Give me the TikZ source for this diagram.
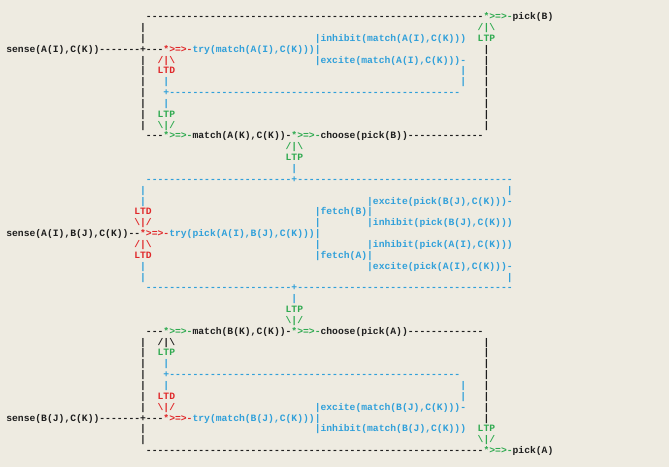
\documentclass[tikz,border=0pt]{standalone}
\usepackage{fontspec}
\setmonofont{Liberation Mono}
\definecolor{bgc}{HTML}{EEEBE1}
\definecolor{blk}{HTML}{1E1E1E}
\definecolor{redc}{HTML}{E0282A}
\definecolor{grnc}{HTML}{2FAA50}
\definecolor{cync}{HTML}{30A0DA}
\ExplSyntaxOn
\cs_new:Npn \myDashes #1 {\prg_replicate:nn{#1}{-}}
\ExplSyntaxOff
\newcommand\bs{\textbackslash}
\tikzset{txt/.style={anchor=base west, inner sep=0pt, outer sep=0pt,
  font=\ttfamily\bfseries\fontsize{9.7}{10}\selectfont}}
% \seg{col}{row}{colour}{text}
\newcommand\seg[4]{\node[txt,text=#3] (c#1r#2) at ({6.3+#1*5.82},{-(19.6+#2*10.85)}) {#4};}
\begin{document}
\begin{tikzpicture}[x=1pt,y=1pt]
\fill[bgc] (0,0) rectangle (669,-467);
\useasboundingbox (0,0) rectangle (669,-467);
% ---- top block
\seg{24}{0}{blk}{\myDashes{58}}\seg{82}{0}{grnc}{*>=>-}\seg{87}{0}{blk}{pick(B)}
\seg{23}{1}{blk}{|}\seg{81}{1}{grnc}{/|\bs}
\seg{23}{2}{blk}{|}\seg{53}{2}{cync}{|inhibit(match(A(I),C(K)))}\seg{81}{2}{grnc}{LTP}
\seg{0}{3}{blk}{sense(A(I),C(K))-------+---}\seg{27}{3}{redc}{*>=>-}\seg{32}{3}{cync}{try(match(A(I),C(K)))|}\seg{82}{3}{blk}{|}
\seg{23}{4}{blk}{|}\seg{26}{4}{redc}{/|\bs}\seg{53}{4}{cync}{|excite(match(A(I),C(K)))-}\seg{82}{4}{blk}{|}
\seg{23}{5}{blk}{|}\seg{26}{5}{redc}{LTD}\seg{78}{5}{cync}{|}\seg{82}{5}{blk}{|}
\seg{23}{6}{blk}{|}\seg{27}{6}{cync}{|}\seg{78}{6}{cync}{|}\seg{82}{6}{blk}{|}
\seg{23}{7}{blk}{|}\seg{27}{7}{cync}{+\myDashes{50}}\seg{82}{7}{blk}{|}
\seg{23}{8}{blk}{|}\seg{27}{8}{cync}{|}\seg{82}{8}{blk}{|}
\seg{23}{9}{blk}{|}\seg{26}{9}{grnc}{LTP}\seg{82}{9}{blk}{|}
\seg{23}{10}{blk}{|}\seg{26}{10}{grnc}{\bs|/}\seg{82}{10}{blk}{|}
\seg{24}{11}{blk}{---}\seg{27}{11}{grnc}{*>=>-}\seg{32}{11}{blk}{match(A(K),C(K))-}\seg{49}{11}{grnc}{*>=>-}\seg{54}{11}{blk}{choose(pick(B))\myDashes{13}}
\seg{48}{12}{grnc}{/|\bs}
\seg{48}{13}{grnc}{LTP}
\seg{49}{14}{cync}{|}
% ---- middle block
\seg{24}{15}{cync}{\myDashes{25}+\myDashes{37}}
\seg{23}{16}{cync}{|}\seg{86}{16}{cync}{|}
\seg{23}{17}{cync}{|}\seg{62}{17}{cync}{|excite(pick(B(J),C(K)))-}
\seg{22}{18}{redc}{LTD}\seg{53}{18}{cync}{|fetch(B)|}
\seg{22}{19}{redc}{\bs|/}\seg{53}{19}{cync}{|}\seg{62}{19}{cync}{|inhibit(pick(B(J),C(K)))}
\seg{0}{20}{blk}{sense(A(I),B(J),C(K))--}\seg{23}{20}{redc}{*>=>-}\seg{28}{20}{cync}{try(pick(A(I),B(J),C(K)))|}
\seg{22}{21}{redc}{/|\bs}\seg{53}{21}{cync}{|}\seg{62}{21}{cync}{|inhibit(pick(A(I),C(K)))}
\seg{22}{22}{redc}{LTD}\seg{53}{22}{cync}{|fetch(A)|}
\seg{23}{23}{cync}{|}\seg{62}{23}{cync}{|excite(pick(A(I),C(K)))-}
\seg{23}{24}{cync}{|}\seg{86}{24}{cync}{|}
\seg{24}{25}{cync}{\myDashes{25}+\myDashes{37}}
\seg{49}{26}{cync}{|}
\seg{48}{27}{grnc}{LTP}
\seg{48}{28}{grnc}{\bs|/}
% ---- bottom block
\seg{24}{29}{blk}{---}\seg{27}{29}{grnc}{*>=>-}\seg{32}{29}{blk}{match(B(K),C(K))-}\seg{49}{29}{grnc}{*>=>-}\seg{54}{29}{blk}{choose(pick(A))\myDashes{13}}
\seg{23}{30}{blk}{|}\seg{26}{30}{blk}{/|\bs}\seg{82}{30}{blk}{|}
\seg{23}{31}{blk}{|}\seg{26}{31}{grnc}{LTP}\seg{82}{31}{blk}{|}
\seg{23}{32}{blk}{|}\seg{27}{32}{cync}{|}\seg{82}{32}{blk}{|}
\seg{23}{33}{blk}{|}\seg{27}{33}{cync}{+\myDashes{50}}\seg{82}{33}{blk}{|}
\seg{23}{34}{blk}{|}\seg{27}{34}{cync}{|}\seg{78}{34}{cync}{|}\seg{82}{34}{blk}{|}
\seg{23}{35}{blk}{|}\seg{26}{35}{redc}{LTD}\seg{78}{35}{cync}{|}\seg{82}{35}{blk}{|}
\seg{23}{36}{blk}{|}\seg{26}{36}{redc}{\bs|/}\seg{53}{36}{cync}{|excite(match(B(J),C(K)))-}\seg{82}{36}{blk}{|}
\seg{0}{37}{blk}{sense(B(J),C(K))-------+---}\seg{27}{37}{redc}{*>=>-}\seg{32}{37}{cync}{try(match(B(J),C(K)))|}\seg{82}{37}{blk}{|}
\seg{23}{38}{blk}{|}\seg{53}{38}{cync}{|inhibit(match(B(J),C(K)))}\seg{81}{38}{grnc}{LTP}
\seg{23}{39}{blk}{|}\seg{81}{39}{grnc}{\bs|/}
\seg{24}{40}{blk}{\myDashes{58}}\seg{82}{40}{grnc}{*>=>-}\seg{87}{40}{blk}{pick(A)}
\end{tikzpicture}
\end{document}
